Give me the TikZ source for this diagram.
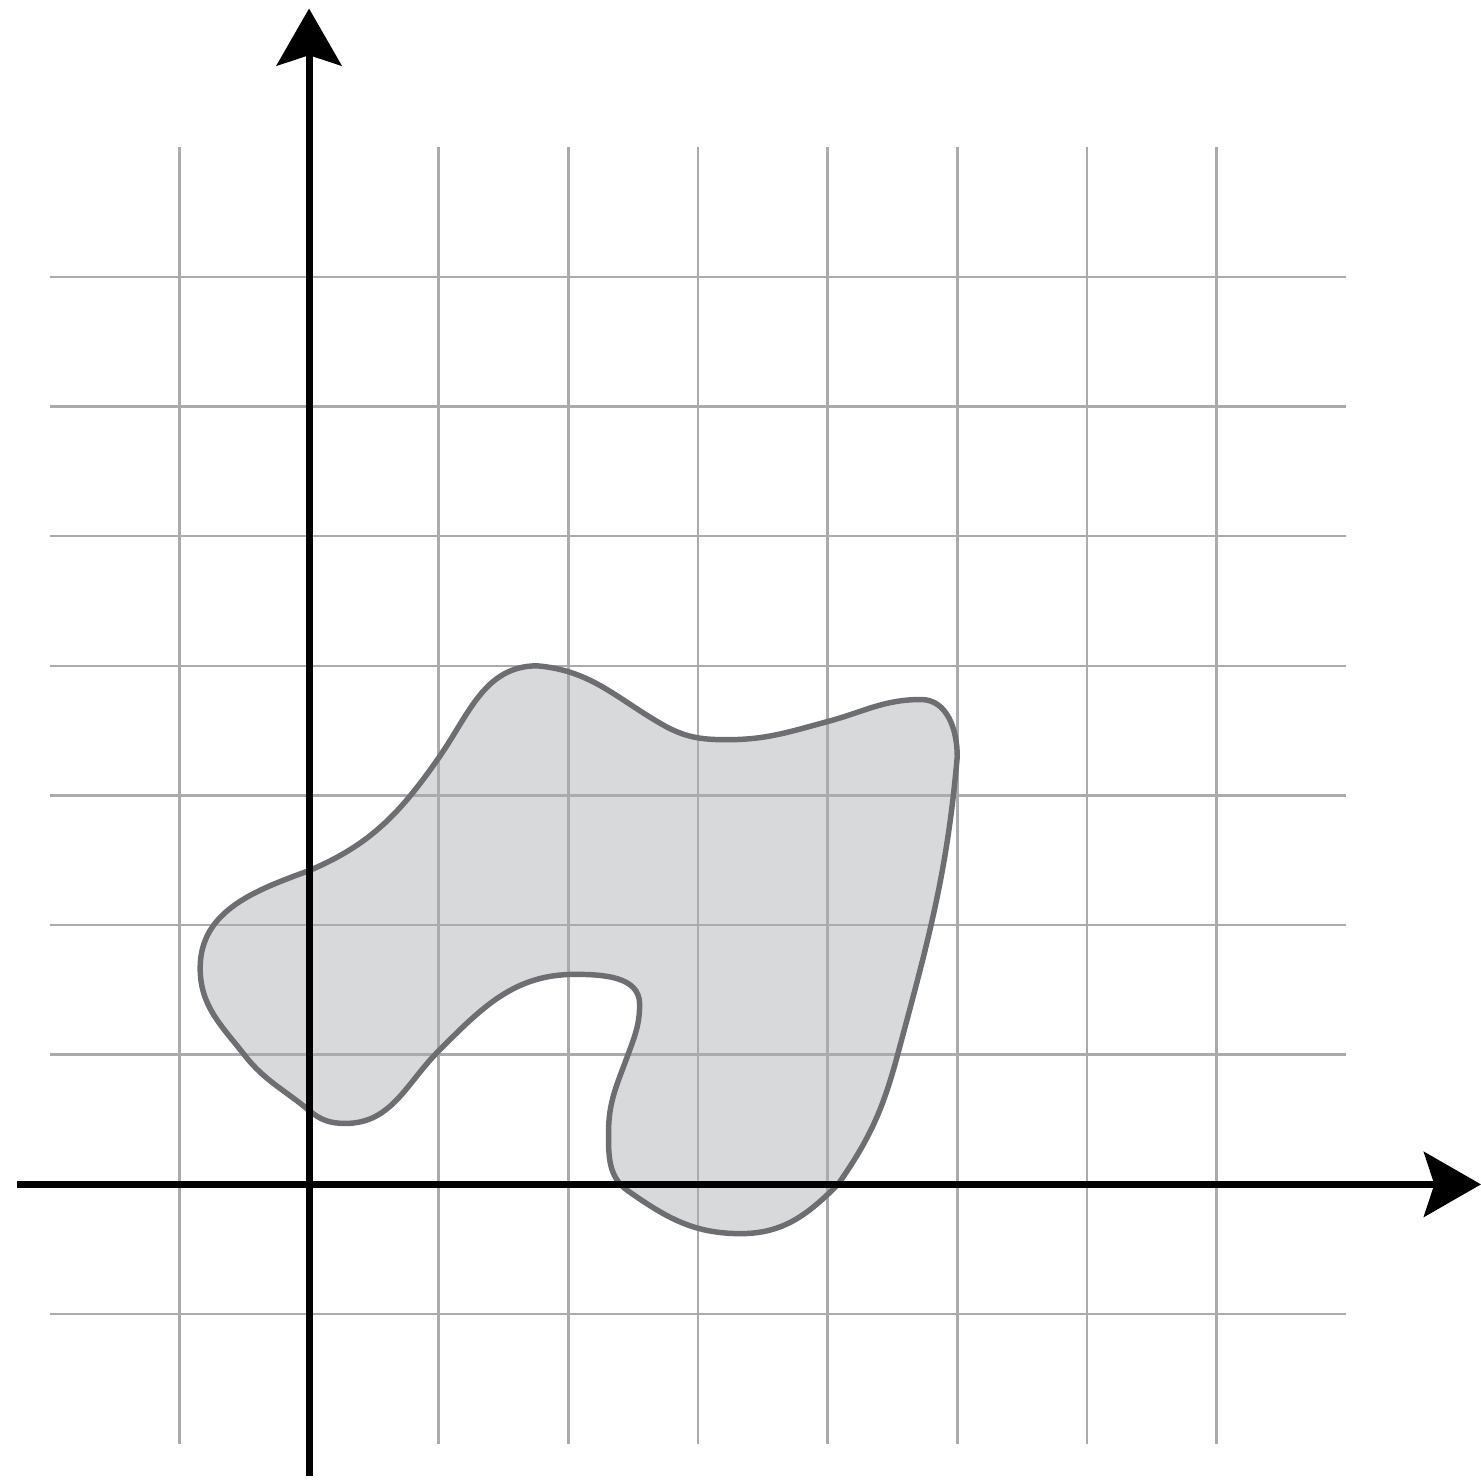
\documentclass[tikz,border=0pt]{standalone}
\usetikzlibrary{arrows.meta}
\definecolor{blobfill}{HTML}{D7D9DB}
\definecolor{blobline}{HTML}{6D6E71}
\definecolor{gridgray}{HTML}{ABABAD}
\tikzset{
  gridline/.style={line width=0.55pt, gridgray},
  axisline/.style={line width=1.55pt, black, -{Stealth[length=0.44cm, width=0.5cm, inset=0.08cm]}},
  blobedge/.style={line width=1.2pt, blobline}
}
\begin{document}
\begin{tikzpicture}
    \useasboundingbox (-2.384,-2.276) rectangle (9.04,9.136);
    % region
    \def\blobpath{(0,2.42) to[out=23,in=235] (1,3.29) to[out=55,in=180] (1.76,4.0)
        to[out=-5,in=150] (2.72,3.55) to[out=-30,in=180] (3.22,3.43)
        to[out=0,in=195] (4.0,3.57) to[out=15,in=180] (4.72,3.74) to[out=0,in=90] (5.0,3.3)
        to[out=-95,in=75] (4.54,1.0) to[out=-105,in=55] (4.08,0)
        to[out=-135,in=0] (3.33,-0.38) to[out=180,in=-35] (2.46,-0.05)
        to[out=145,in=-90] (2.31,0.40) to[out=90,in=-110] (2.46,1.0)
        to[out=70,in=-90] (2.55,1.39) to[out=90,in=0] (2.05,1.62)
        to[out=180,in=45] (1.0,1.03) to[out=-135,in=0] (0.28,0.47)
        to[out=180,in=-40] (0,0.57) to[out=140,in=-52] (-0.5,1.0)
        to[out=128,in=-90] (-0.84,1.67) to[out=90,in=200] cycle}
    \fill[blobfill] \blobpath;
    % grid
    \foreach \x in {-1,...,7}
        \draw[gridline] (\x,-2) -- (\x,8);
    \foreach \y in {-1,...,7}
        \draw[gridline] (-2,\y) -- (8,\y);
    \draw[blobedge] \blobpath;
    % axes
    \coordinate (xstart) at (-2.25,0);
    \coordinate (xend) at (9.04,0);
    \coordinate (ystart) at (0,-2.25);
    \coordinate (yend) at (0,9.07);
    \draw[axisline] (xstart) -- (xend);
    \draw[axisline] (ystart) -- (yend);
\end{tikzpicture}
\end{document}
